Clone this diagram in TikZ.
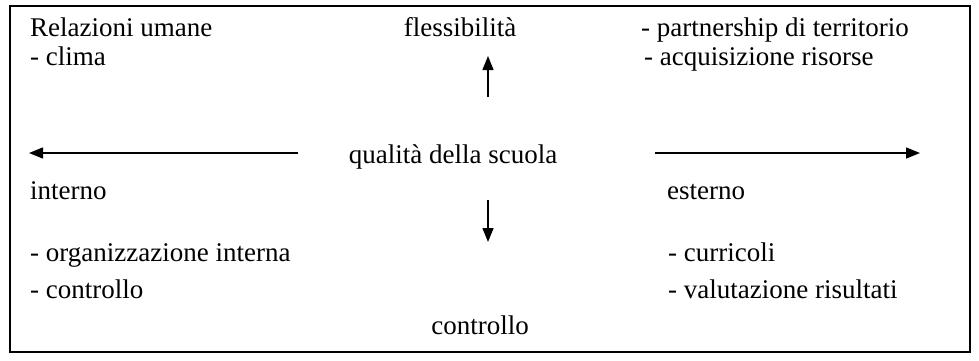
\documentclass[tikz,border=0pt]{standalone}
\usepackage{fontspec}
\setmainfont{Liberation Serif}
\usetikzlibrary{arrows.meta}
\begin{document}
\begin{tikzpicture}[x=1pt,y=-1pt,
  txt/.style={anchor=base west,inner sep=0pt,font=\fontsize{27}{31}\selectfont},
  ctxt/.style={anchor=base,inner sep=0pt,font=\fontsize{27}{31}\selectfont},
  arr/.style={line width=1.4pt,-{Triangle[length=14pt,width=11pt]}},
  frame/.style={line width=2pt}]
\useasboundingbox (0,0) rectangle (979,360);
\draw[frame] (10,6) rectangle (970,352);
\node[txt] (rel) at (30,36) {Relazioni umane};
\node[txt] (clima) at (30,65) {- clima};
\node[ctxt] (fles) at (460,36) {flessibilità};
\node[txt] (part) at (641,36) {- partnership di territorio};
\node[txt] (acq) at (644,65) {- acquisizione risorse};
\node[ctxt] (qual) at (453,163) {qualità della scuola};
\node[txt] (int) at (30,199) {interno};
\node[txt] (est) at (667,199) {esterno};
\node[txt] (org) at (30,261) {- organizzazione interna};
\node[txt] (ctl) at (30,298) {- controllo};
\node[txt] (cur) at (668,261) {- curricoli};
\node[txt] (val) at (668,298) {- valutazione risultati};
\node[ctxt] (ctlb) at (480,334) {controllo};
\coordinate (upT) at (488,97);
\coordinate (upH) at (488,56);
\coordinate (dnT) at (488,200);
\coordinate (dnH) at (488,242);
\coordinate (lT) at (298,153);
\coordinate (lH) at (29,153);
\coordinate (rT) at (655,153);
\coordinate (rH) at (920,153);
\draw[arr] (upT) -- (upH);
\draw[arr] (dnT) -- (dnH);
\draw[arr] (lT) -- (lH);
\draw[arr] (rT) -- (rH);
\end{tikzpicture}
\end{document}
